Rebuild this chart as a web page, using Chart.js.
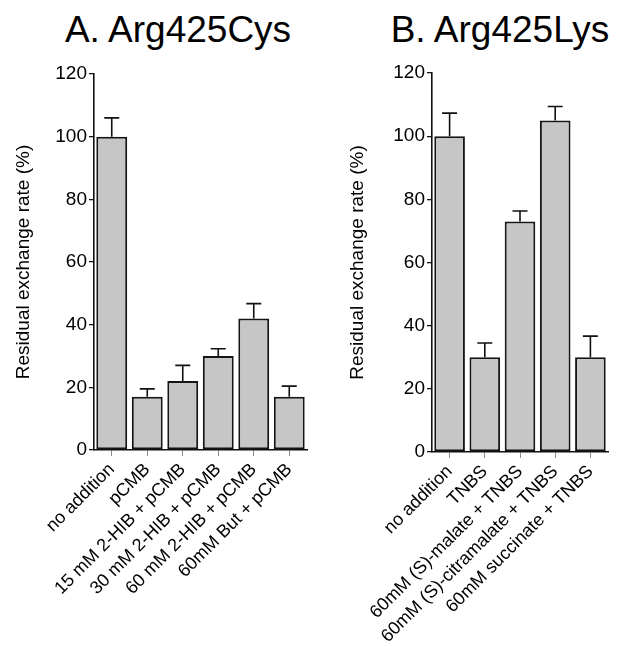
<!DOCTYPE html>
<html>
<head>
<meta charset="utf-8">
<script src="https://cdn.jsdelivr.net/npm/chart.js@4.4.0/dist/chart.umd.min.js"></script>
<style>
  html, body { margin: 0; padding: 0; background: #fff; }
  body { width: 618px; height: 646px; position: relative; overflow: hidden; font-family: "Liberation Sans", Arial, sans-serif; }
  .title { position: absolute; top: 11px; font-size: 37px; line-height: 37px; color: #000; text-align: center; white-space: nowrap; }
  #wrapA { position: absolute; left: 0; top: 0; width: 310px; height: 646px; }
  #wrapB { position: absolute; left: 310px; top: 0; width: 308px; height: 646px; }
</style>
</head>
<body>
<div class="title" style="left:28px;width:300px;">A. Arg425Cys</div>
<div class="title" style="left:350px;width:300px;">B. Arg425Lys</div>
<div id="wrapA"><canvas id="chartA" width="310" height="646"></canvas></div>
<div id="wrapB"><canvas id="chartB" width="308" height="646"></canvas></div>
<script>
// ---- Data ----
const categoriesA = ["no addition", "pCMB", "15 mM 2-HIB + pCMB", "30 mM 2-HIB + pCMB", "60 mM 2-HIB + pCMB", "60mM But + pCMB"];
const valuesA = [100, 17, 22, 30, 42, 17];
const errorsA = [6, 2.5, 5, 2.3, 4.7, 3.4];

const categoriesB = ["no addition", "TNBS", "60mM (S)-malate + TNBS", "60mM (S)-citramalate + TNBS", "60mM succinate + TNBS"];
const valuesB = [100, 30, 73, 105, 30];
const errorsB = [7.3, 4.5, 3.3, 4.4, 6.7];

const yTicks = [0, 20, 40, 60, 80, 100, 120];
const yTitle = "Residual exchange rate (%)";

const FONT = '"Liberation Sans", Arial, sans-serif';

// Upper error bars drawn through the chart's own scales
function errorBarPlugin(errors) {
  return {
    id: 'errbars',
    afterDatasetsDraw(chart) {
      const ctx = chart.ctx;
      const meta = chart.getDatasetMeta(0);
      const ys = chart.scales.y;
      const vals = chart.data.datasets[0].data;
      ctx.save();
      ctx.strokeStyle = '#111';
      ctx.lineWidth = 1.6;
      meta.data.forEach((bar, i) => {
        const x = bar.x;
        const yTop = ys.getPixelForValue(vals[i]);
        const yErr = ys.getPixelForValue(vals[i] + errors[i]);
        ctx.beginPath();
        ctx.moveTo(x, yTop);
        ctx.lineTo(x, yErr);
        ctx.moveTo(x - 7.5, yErr);
        ctx.lineTo(x + 7.5, yErr);
        ctx.stroke();
      });
      ctx.restore();
    }
  };
}

function makeChart(id, cats, vals, errs, cfg) {
  return new Chart(document.getElementById(id), {
    type: 'bar',
    data: {
      labels: cats,
      datasets: [{
        data: vals,
        backgroundColor: '#c6c6c6',
        borderColor: '#151515',
        borderWidth: 2,
        borderSkipped: false,
        barPercentage: 0.87,
        categoryPercentage: 1.0
      }]
    },
    options: {
      responsive: false,
      animation: false,
      events: [],
      layout: { padding: { top: cfg.top, right: cfg.right, left: 0, bottom: 0 } },
      plugins: { legend: { display: false }, tooltip: { enabled: false }, title: { display: false } },
      scales: {
        x: {
          afterFit: (s) => { s.height = cfg.xHeight; },
          grid: { display: true, offset: false, drawOnChartArea: false, drawTicks: true, tickLength: 6, color: '#8a8a8a', tickColor: '#8a8a8a' },
          border: { display: true, color: '#111', width: 1.6 },
          ticks: {
            autoSkip: false, maxRotation: 45, minRotation: 45, padding: 3,
            color: '#000', font: { family: FONT, size: 18 }
          }
        },
        y: {
          min: 0, max: 120,
          afterFit: (s) => { s.width = cfg.yWidth; },
          afterBuildTicks: (s) => { s.ticks = yTicks.map(v => ({ value: v })); },
          grid: { display: true, drawOnChartArea: false, drawTicks: true, tickLength: 5, color: '#111', tickColor: '#111', lineWidth: 1.3 },
          border: { display: true, color: '#111', width: 1.6 },
          ticks: { padding: 2, color: '#000', font: { family: FONT, size: 19 } },
          title: {
            display: true, text: yTitle, color: '#000',
            font: { family: FONT, size: 19 },
            padding: { top: 12.5, bottom: 0 }
          }
        }
      }
    },
    plugins: [errorBarPlugin(errs)]
  });
}

makeChart('chartA', categoriesA, valuesA, errorsA, { top: 74, right: 3, xHeight: 196, yWidth: 94 });
makeChart('chartB', categoriesB, valuesB, errorsB, { top: 73, right: 10, xHeight: 194, yWidth: 122 });
// right panel: axis title sits further from its axis
Chart.getChart('chartB').options.scales.y.title.padding = { top: 36, bottom: 0 };
Chart.getChart('chartB').update();
</script>
</body>
</html>
